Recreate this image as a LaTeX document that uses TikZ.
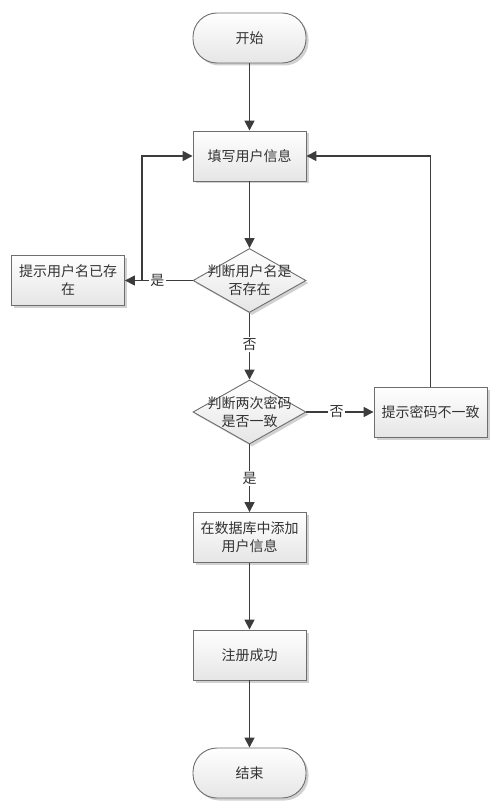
\documentclass[tikz,border=0pt]{standalone}
\usepackage{fontspec}
\newfontfamily\cjk{Noto Sans CJK SC}
\usetikzlibrary{arrows.meta,shapes.geometric,shadows}
\definecolor{linec}{HTML}{3C3C3C}
\definecolor{bordc}{HTML}{6E6E6E}
\definecolor{txtc}{HTML}{333333}
\tikzset{
  base/.style={draw=bordc, line width=0.9pt, top color=white, bottom color=black!10,
    drop shadow={shadow xshift=2.5pt, shadow yshift=-2.5pt, fill=black!30, opacity=0.6},
    inner sep=0pt, font=\cjk\fontsize{14}{18}\selectfont, text=txtc, align=center},
  procbox/.style={base, rectangle, minimum width=113pt, minimum height=50pt},
  termbox/.style={base, rectangle, rounded corners=24pt, minimum width=113pt, minimum height=50pt},
  decbox/.style={base, diamond, minimum width=113pt, minimum height=64pt},
  dectext/.style={font=\cjk\fontsize{14}{18}\selectfont, text=txtc, align=center, inner sep=0pt},
  conn/.style={draw=linec, line width=1.6pt, -{Triangle[length=10pt, width=10pt]}},
  elabel/.style={fill=white, inner sep=1.5pt, font=\cjk\fontsize{14}{16}\selectfont, text=txtc}
}
\begin{document}
\begin{tikzpicture}[x=1pt, y=-1pt]
\useasboundingbox (0,0) rectangle (503,802);
\node[termbox] (start) at (249.5,38) {开始};
\node[procbox] (fill) at (249.5,156) {填写用户信息};
\node[decbox] (d1) at (249.5,280.5) {};
\node[dectext] (d1t) at (249.5,280.5) {判断用户名是\\否存在};
\node[procbox] (warn1) at (68,280) {提示用户名已存\\在};
\node[decbox] (d2) at (249.5,412) {};
\node[dectext] (d2t) at (249.5,412) {判断两次密码\\是否一致};
\node[procbox] (warn2) at (430.5,412) {提示密码不一致};
\node[procbox] (db) at (249.5,537.5) {在数据库中添加\\用户信息};
\node[procbox] (ok) at (249.5,655) {注册成功};
\node[termbox] (stop) at (249.5,773) {结束};

\coordinate (j1) at (142,280.5);

\draw[conn] (start) -- (fill);
\draw[conn] (fill) -- (d1);
\draw[conn] (d1.west) -- node[elabel, pos=0.52] (lyes1) {是} (warn1.east |- d1.west);
\draw[conn] (j1) |- (fill.west);
\draw[conn] (d1) -- node[elabel, pos=0.47] (lno1) {否} (d2);
\draw[conn] (d2.east) -- node[elabel, pos=0.45] (lno2) {否} (warn2.west);
\draw[conn] (warn2.north) |- (fill.east);
\draw[conn] (d2) -- node[elabel, pos=0.5] (lyes2) {是} (db);
\draw[conn] (db) -- (ok);
\draw[conn] (ok) -- (stop);
\end{tikzpicture}
\end{document}
